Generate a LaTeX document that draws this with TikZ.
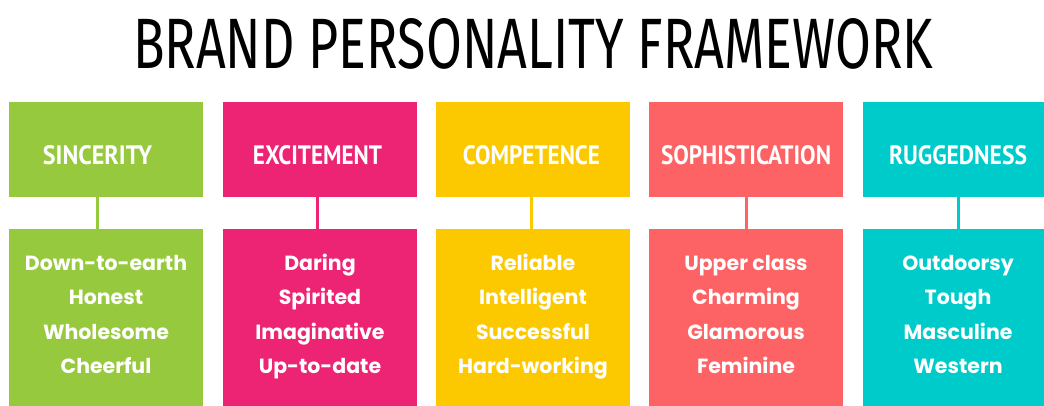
\documentclass[tikz,border=0pt]{standalone}
\usepackage{fontspec}
\setmainfont{Poppins}
\newfontfamily\titlefont{Fira Sans}
\newfontfamily\headfont{PT Sans}
\definecolor{cgreen}{HTML}{97C93E}
\definecolor{cpink}{HTML}{EC2473}
\definecolor{cyellow}{HTML}{FCC900}
\definecolor{ccoral}{HTML}{FD6264}
\definecolor{cteal}{HTML}{00CBCB}
\begin{document}
\begin{tikzpicture}[x=1pt,y=-1pt,
  headbox/.style={fill=#1, draw=none, minimum width=194pt, minimum height=95pt, inner sep=0pt, anchor=north west},
  bodybox/.style={fill=#1, draw=none, minimum width=194pt, minimum height=180pt, inner sep=0pt, anchor=north west},
  headlabel/.style={text=white, inner sep=0pt, anchor=base},
  bodyline/.style={text=white, inner sep=0pt, anchor=base, font=\bfseries\fontsize{20.5pt}{24pt}\selectfont},
  link/.style={draw=#1, line width=3pt}]
\useasboundingbox (0,0) rectangle (1044,405);
\clip (0,0) rectangle (1044,405);
\fill[white] (0,0) rectangle (1044,405);
\node[inner sep=0pt, anchor=base west] (title) at (133,68) {\resizebox{800pt}{50pt}{\titlefont BRAND PERSONALITY FRAMEWORK}};
\foreach \i/\col/\bx/\lx/\lw/\head/\cx/\la/\lb/\lc/\ld in {
  1/cgreen/9/97.5/109/SINCERITY/106/Down-to-earth/Honest/Wholesome/Cheerful,
  2/cpink/223/317.5/129/EXCITEMENT/320/Daring/Spirited/Imaginative/Up-to-date,
  3/cyellow/436/531.5/137/COMPETENCE/533/Reliable/Intelligent/Successful/Hard-working,
  4/ccoral/649/746/170/SOPHISTICATION/746/Upper class/Charming/Glamorous/Feminine,
  5/cteal/863/958/138/RUGGEDNESS/958/Outdoorsy/Tough/Masculine/Western}{
  \node[headbox=\col] (h\i) at (\bx,102) {};
  \node[bodybox=\col] (b\i) at (\bx,229) {};
  \node[headlabel] (l\i) at (\lx,164) {\resizebox{\lw pt}{19pt}{\headfont\bfseries \head}};
  \draw[link=\col] (h\i.south -| l\i) -- (b\i.north -| l\i);
  \node[bodyline] (t\i a) at (\cx,270) {\la};
  \node[bodyline] (t\i b) at (\cx,304.5) {\lb};
  \node[bodyline] (t\i c) at (\cx,339) {\lc};
  \node[bodyline] (t\i d) at (\cx,373.5) {\ld};
}
\end{tikzpicture}
\end{document}
